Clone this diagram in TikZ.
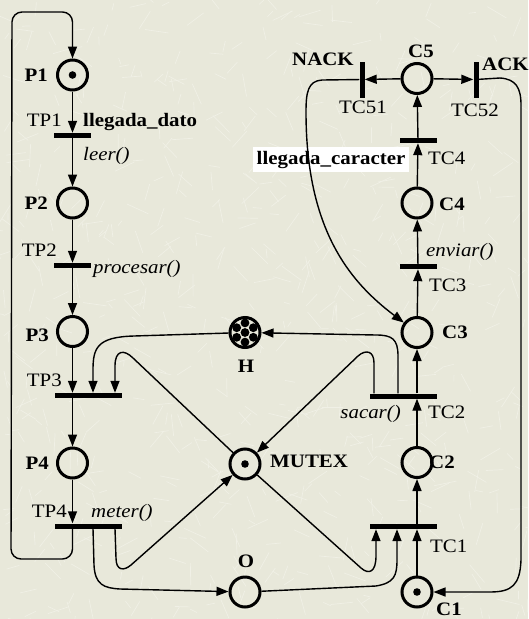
\documentclass[tikz,border=0pt]{standalone}
\usepackage{fontspec}
\setmainfont{Liberation Serif}[FakeStretch=1.1]
\usetikzlibrary{arrows.meta,calc}
\definecolor{paper}{HTML}{E8E8DA}
\definecolor{paperlight}{HTML}{F0F0E6}

\begin{document}
\begin{tikzpicture}[x=1pt,y=-1pt,
  place/.style={circle,draw,line width=3pt,minimum size=30pt,inner sep=0pt},
  trans/.style={fill=black,inner sep=0pt,minimum width=37pt,minimum height=5pt},
  widetrans/.style={trans,minimum width=67pt},
  vtrans/.style={fill=black,inner sep=0pt,minimum width=5pt,minimum height=36pt},
  flow/.style={line width=1.4pt,-{Triangle[length=12pt,width=9pt]}},
  txt/.style={font=\fontsize{19}{22}\selectfont,inner sep=0pt},
  plabel/.style={font=\fontsize{19}{22}\selectfont\bfseries,inner sep=0pt},
  act/.style={font=\fontsize{19}{22}\selectfont\itshape,inner sep=0pt},
]
% paper background with a faint fibre texture
\useasboundingbox (0,0) rectangle (528,619);
\fill[paper] (0,0) rectangle (528,619);
\begin{scope}
  \clip (0,0) rectangle (528,619);
  \pgfmathsetseed{42}
  \foreach \i in {1,...,700}{
    \pgfmathsetmacro\xa{rnd*528}
    \pgfmathsetmacro\ya{rnd*619}
    \pgfmathsetmacro\ang{rnd*360}
    \pgfmathsetmacro\len{6+rnd*18}
    \draw[paperlight,line width=0.7pt] (\xa,\ya) -- ++(\ang:\len);
  }
\end{scope}

% ---------- producer (left column) ----------
\node[place] (P1) at (72.5,75) {};
\node[trans] (TP1) at (72.5,135.5) {};
\node[place] (P2) at (72.5,203) {};
\node[trans] (TP2) at (72.5,265.5) {};
\node[place] (P3) at (72.5,331.5) {};
\node[widetrans] (TP3) at (88.5,395.5) {};
\node[place] (P4) at (72.5,463) {};
\node[widetrans] (TP4) at (88.5,526) {};

% ---------- shared places (centre) ----------
\node[place] (H) at (245,332.5) {};
\node[place] (MUTEX) at (245,464) {};
\node[place] (O) at (245,592) {};

% ---------- consumer (right column) ----------
\node[place] (C5) at (417,78.5) {};
\node[vtrans] (TC51) at (362,79.5) {};
\node[vtrans] (TC52) at (476,79.5) {};
\node[trans] (TC4) at (418,140.5) {};
\node[place] (C4) at (417,203) {};
\node[trans] (TC3) at (418,266.5) {};
\node[place] (C3) at (417,332.5) {};
\node[widetrans] (TC2) at (403.5,396) {};
\node[place] (C2) at (417,462.5) {};
\node[widetrans] (TC1) at (403.5,526.5) {};
\node[place] (C1) at (417,592) {};

% tokens
\fill (P1) circle (3.8pt);
\fill (MUTEX) circle (3.8pt);
\fill (C1) circle (3.8pt);
\fill (H) circle (4.4pt);
\foreach \a in {30,90,...,330} \fill ($(H)+(\a:9.6)$) circle (4.4pt);

% ---------- labels ----------
\node[plabel,anchor=base east] at (48,81.5) {P1};
\node[txt,anchor=base east] at (62,126) {TP1};
\node[plabel,anchor=base west] at (83,126) {llegada\_dato};
\node[act,anchor=base west] at (83,160) {leer()};
\node[plabel,anchor=base east] at (48,209.5) {P2};
\node[txt,anchor=base east] at (57,256) {TP2};
\node[act,anchor=base west] at (93,273) {procesar()};
\node[plabel,anchor=base east] at (49,341) {P3};
\node[txt,anchor=base east] at (62,386) {TP3};
\node[plabel,anchor=base east] at (49,469) {P4};
\node[txt,anchor=base east] at (67,517) {TP4};
\node[act,anchor=base west] at (91,517) {meter()};

\node[plabel,anchor=base] at (246,372) {H};
\node[plabel,anchor=base west] at (270,467) {MUTEX};
\node[plabel,anchor=base] at (246,567) {O};

\node[plabel,anchor=base] at (421,57) {C5};
\node[plabel,anchor=base west] at (292,65) {NACK};
\node[plabel,anchor=base west] at (482,70) {ACK};
\node[txt,anchor=base west] at (339,113) {TC51};
\node[txt,anchor=base west] at (451,116) {TC52};
\node[txt,anchor=base west] at (428,164) {TC4};
\node[plabel,anchor=base east,fill=white,inner sep=3.5pt] at (409,164) {llegada\_caracter};
\node[plabel,anchor=base west] at (439,210) {C4};
\node[act,anchor=base west] at (426,256) {enviar()};
\node[txt,anchor=base west] at (429,291) {TC3};
\node[plabel,anchor=base west] at (442,338) {C3};
\node[txt,anchor=base west] at (428,418) {TC2};
\node[act,anchor=base east] at (401,418) {sacar()};
\node[plabel,anchor=base west] at (429,468) {C2};
\node[txt,anchor=base west] at (430,552) {TC1};
\node[plabel,anchor=base west] at (436,615.5) {C1};

% ---------- producer arcs ----------
\draw[flow] (P1) -- (TP1);
\draw[flow] (TP1) -- (P2);
\draw[flow] (P2) -- (TP2);
\draw[flow] (TP2) -- (P3);
\draw[flow] (P3) -- (P3 |- TP3.north);
\draw[flow] (TP3.south -| P4) -- (P4);
\draw[flow] (P4) -- (P4 |- TP4.north);
% loop back from TP4 to P1
\draw[flow,rounded corners=10pt] (TP4.south -| P4) -- (72.5,559) -- (11,559) -- (12,12) -- (72.5,12) -- (P1);
% TP4 feeds O and MUTEX
\draw[flow] ([xshift=4.5pt]TP4.south) -- (94,565) .. controls (95,585) and (104,588) .. (120,589) -- (O);
\draw[flow] ([xshift=26.5pt]TP4.south) -- (116,558) .. controls (116,571) and (124,571) .. (131,565) -- (MUTEX);
% H and MUTEX feed TP3
\draw[flow] (H) -- (134,336) .. controls (97,337) and (93,348) .. (93,370) -- ([xshift=4.5pt]TP3.north);
\draw[flow] (MUTEX) -- (133,358) .. controls (124,349) and (115,350) .. (115,366) -- ([xshift=26.5pt]TP3.north);

% ---------- consumer arcs ----------
\draw[flow] (C1) -- (TC1.south -| C1);
\draw[flow] (TC1.north -| C2) -- (C2);
\draw[flow] (C2) -- (TC2.south -| C2);
\draw[flow] (TC2.north -| C3) -- (C3);
\draw[flow] (C3) -- (TC3);
\draw[flow] (TC3) -- (C4);
\draw[flow] (C4) -- (TC4);
\draw[flow] (TC4) -- (C5);
\draw[flow] (C5) -- (TC51);
\draw[flow] (C5) -- (TC52);
% MUTEX and O feed TC1
\draw[flow] (MUTEX) -- (361,568) .. controls (369,575) and (376,572) .. (376,556) -- ([xshift=-27.5pt]TC1.south);
\draw[flow] (O) -- (376,586) .. controls (394,583) and (397,576) .. (397,560) -- ([xshift=-6.5pt]TC1.south);
% TC2 returns to H and MUTEX
\draw[flow] ([xshift=-5.5pt]TC2.north) -- (398,356) .. controls (398,339) and (392,335) .. (376,335) -- (H);
\draw[flow] ([xshift=-29.5pt]TC2.north) -- (374,363) .. controls (374,351) and (366,349) .. (358,356) -- (MUTEX);
% NACK: back to C3
\draw[flow] (TC51) -- (322,80) .. controls (308,81) and (306,92) .. (306,112) .. controls (306,230) and (350,282) .. (C3);
% ACK: back to C1
\draw[flow] (TC52) -- (500,78) .. controls (516,79) and (521,88) .. (521,105) -- (521,560) .. controls (520,585) and (512,592) .. (490,592) -- (C1);
\end{tikzpicture}
\end{document}
